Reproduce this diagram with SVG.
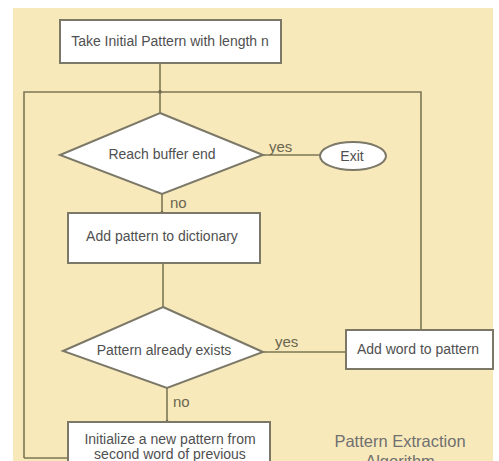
<svg xmlns="http://www.w3.org/2000/svg" width="499" height="461" viewBox="0 0 499 461">
<style>
.bg{fill:#f8e9bb}
.box{fill:#ffffff;stroke:#7b7868;stroke-width:2}
.ln{fill:none;stroke:#7d7655;stroke-width:1.6}
.t{font-family:"Liberation Sans",Arial,sans-serif;font-size:14px;fill:#505050;text-anchor:middle}
.lbl{font-family:"Liberation Sans",Arial,sans-serif;font-size:15px;fill:#6b6650}
.title{font-family:"Liberation Sans",Arial,sans-serif;font-size:16.5px;fill:#707070;text-anchor:middle}
</style>
<defs>
<marker id="dot" markerWidth="4" markerHeight="4" refX="2" refY="2" markerUnits="userSpaceOnUse">
<circle cx="2" cy="2" r="1.8" fill="#4f4a35"/>
</marker>
</defs>
<rect x="0" y="0" width="499" height="461" fill="#ffffff"/>
<rect class="bg" x="13" y="8" width="480" height="453"/>
<g id="connectors">
<path class="ln" d="M160 63 V92" marker-end="url(#dot)"/>
<path class="ln" d="M160 92 V113"/>
<path class="ln" d="M24 458 V92 H421 V330"/>
<path class="ln" d="M24 458 H68"/>
<path class="ln" d="M263 155 H320"/>
<path class="ln" d="M162 194 V213" marker-end="url(#dot)"/>
<path class="ln" d="M163 263 V307"/>
<path class="ln" d="M263 352 H346"/>
<path class="ln" d="M167 388 V422" marker-end="url(#dot)"/>
<text class="lbl" x="269" y="152">yes</text>
<text class="lbl" x="170" y="208">no</text>
<text class="lbl" x="275" y="347">yes</text>
<text class="lbl" x="173" y="407">no</text>
</g>
<g id="start">
<rect class="box" x="60" y="20" width="221" height="43"/>
<text class="t" x="170" y="46">Take Initial Pattern with length n</text>
</g>
<g id="reach">
<polygon class="box" points="160,113 263,155 162,194 60,155"/>
<text class="t" x="162" y="159">Reach buffer end</text>
</g>
<g id="exit">
<ellipse class="box" cx="353" cy="156" rx="33" ry="14"/>
<text class="t" x="352" y="161">Exit</text>
</g>
<g id="add-dict">
<rect class="box" x="68" y="213" width="192" height="50"/>
<text class="t" x="162" y="241">Add pattern to dictionary</text>
</g>
<g id="exists">
<polygon class="box" points="163,307 263,352 167,388 63,351"/>
<text class="t" x="164" y="355">Pattern already exists</text>
</g>
<g id="add-word">
<rect class="box" x="346" y="330" width="147" height="39"/>
<text class="t" x="418" y="354">Add word to pattern</text>
</g>
<g id="init">
<rect class="box" x="68" y="422" width="202" height="50"/>
<text class="t" x="170" y="444">Initialize a new pattern from</text>
<text class="t" x="170" y="459">second word of previous</text>
</g>
<g id="caption">
<text class="title" x="400" y="447">Pattern Extraction</text>
<text class="title" x="400" y="467">Algorithm</text>
</g>
</svg>
